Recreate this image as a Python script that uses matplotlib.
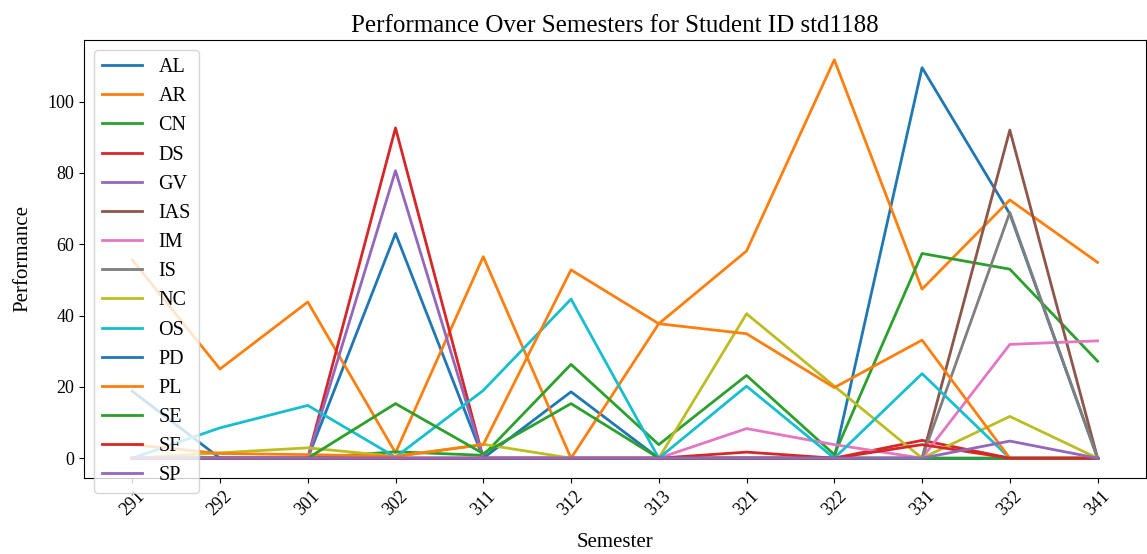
import matplotlib
matplotlib.use("Agg")
import matplotlib.pyplot as plt

semesters = ['291', '292', '301', '302', '311', '312', '313', '321', '322', '331', '332', '341']

AL = [18.8, 0, 0, 63.0, 0, 18.6, 0, 0, 0, 109.5, 68.5, 0]
AR = [55.6, 25.0, 43.8, 1.5, 56.5, 0, 37.7, 58.1, 111.7, 47.4, 72.4, 54.9]
CN = [0, 0, 0, 1.8, 0.8, 26.3, 3.8, 23.2, 1.0, 57.4, 53.0, 27.2]
DS = [0, 0, 0, 92.6, 0, 0, 0, 1.7, 0, 5.0, 0, 0]
GV = [0, 0, 0, 80.6, 0, 0, 0, 0, 0, 0, 0, 0]
IAS = [0, 0, 0, 0, 0, 0, 0, 0, 0, 0, 92.0, 0]
IM = [0, 0, 0, 0, 0, 0, 0, 8.3, 3.8, 0, 31.9, 32.9]
IS = [0, 0, 0, 0, 0, 0, 0, 0, 0, 0, 68.9, 0]
NC = [0, 1.5, 2.9, 0.5, 3.9, 0, 0, 40.5, 20.2, 0, 11.7, 0]
OS = [0, 8.5, 14.8, 0.3, 19.0, 44.6, 0, 20.2, 0, 23.7, 0, 0]
PD = [0, 0, 0, 0, 0, 0, 0, 0, 0, 0, 0, 0]
PL = [3.8, 1.3, 1.0, 0.5, 3.8, 52.8, 37.7, 34.9, 19.8, 33.1, 0, 0]
SE = [0, 0, 0, 15.3, 1.3, 15.3, 0, 0, 0, 0, 0, 0]
SF = [0, 0, 0, 0, 0, 0, 0, 0, 0, 3.8, 0, 0]
SP = [0, 0, 0, 0, 0, 0, 0, 0, 0, 0, 4.8, 0]

series_names = ['AL', 'AR', 'CN', 'DS', 'GV', 'IAS', 'IM', 'IS', 'NC', 'OS', 'PD', 'PL', 'SE', 'SF', 'SP']
series_values = [AL, AR, CN, DS, GV, IAS, IM, IS, NC, OS, PD, PL, SE, SF, SP]

plt.rcParams['font.family'] = ['Liberation Serif', 'DejaVu Serif']

fig = plt.figure(figsize=(11.47, 5.54), dpi=100)
ax = fig.add_axes([0.0732, 0.137, 0.9258, 0.791])

for name, vals in zip(series_names, series_values):
    ax.plot(semesters, vals, label=name, linewidth=2)

ax.set_title('Performance Over Semesters for Student ID std1188', fontsize=18)
ax.set_xlabel('Semester', fontsize=15, labelpad=10)
ax.set_ylabel('Performance', fontsize=15, labelpad=11)
ax.tick_params(axis='both', labelsize=13)
plt.setp(ax.get_xticklabels(), rotation=45)
ax.legend(loc='upper left', fontsize=14.5)

fig.savefig('out.png', dpi=100)
